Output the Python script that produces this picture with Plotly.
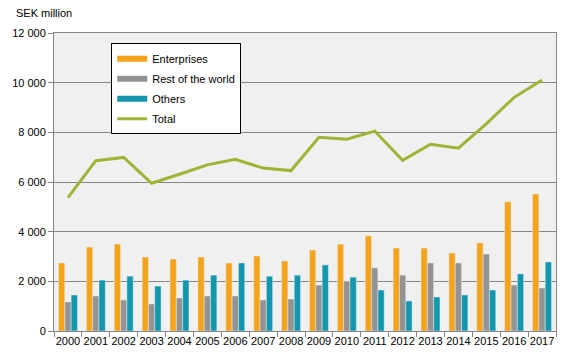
import plotly.graph_objects as go

years = [str(y) for y in range(2000, 2018)]
enterprises = [2740, 3380, 3500, 2980, 2900, 2980, 2740, 3020, 2820, 3260, 3500, 3830, 3340, 3340, 3140, 3550, 5200, 5520]
rest_of_world = [1170, 1410, 1250, 1090, 1330, 1410, 1410, 1250, 1290, 1850, 2010, 2540, 2250, 2740, 2740, 3100, 1850, 1730]
others = [1450, 2050, 2210, 1810, 2050, 2250, 2740, 2210, 2250, 2660, 2170, 1650, 1210, 1370, 1450, 1650, 2300, 2780]
total = [5370, 6860, 6990, 5950, 6310, 6690, 6910, 6560, 6460, 7800, 7720, 8050, 6870, 7520, 7360, 8340, 9410, 10110]

C_ENT = "#F5A31B"
C_ROW = "#939393"
C_OTH = "#1497AC"
C_TOT = "#9CB535"
GRID = "#868686"
FONT = dict(family="Liberation Sans, Arial, sans-serif", size=11, color="#000000")

fig = go.Figure()
fig.add_trace(go.Bar(x=years, y=enterprises, name="Enterprises", marker_color=C_ENT, showlegend=False))
fig.add_trace(go.Bar(x=years, y=rest_of_world, name="Rest of the world", marker_color=C_ROW, showlegend=False))
fig.add_trace(go.Bar(x=years, y=others, name="Others", marker_color=C_OTH, showlegend=False))
fig.add_trace(go.Scatter(x=years, y=total, name="Total", mode="lines",
                         line=dict(color=C_TOT, width=3), showlegend=False))

# legend entries (wide flat keys like the original)
for i, (nm, col, w) in enumerate([("Enterprises", C_ENT, 6), ("Rest of the world", C_ROW, 6),
                                  ("Others", C_OTH, 6), ("Total", C_TOT, 3)]):
    fig.add_trace(go.Scatter(x=[None], y=[None], mode="lines", name=nm, legendgroup=f"g{i}",
                             line=dict(color=col, width=w), showlegend=True))

fig.update_layout(
    width=567, height=353,
    margin=dict(l=54, r=11, t=33, b=22),
    paper_bgcolor="#FFFFFF",
    plot_bgcolor="#F0F0F0",
    barmode="group",
    bargap=0.32,
    bargroupgap=0,
    font=FONT,
    separators=". ",
    legend=dict(x=0.114, y=0.966, xanchor="left", yanchor="top",
                bgcolor="#FFFFFF", bordercolor="#000000", borderwidth=1,
                font=FONT, tracegroupgap=1, traceorder="grouped"),
    annotations=[dict(text="SEK million", xref="paper", yref="paper",
                      x=-0.08, y=1.067, xanchor="left", yanchor="middle",
                      showarrow=False, font=FONT)],
)
fig.update_xaxes(type="category", showline=True, mirror=True, linecolor=GRID, linewidth=1,
                 ticks="outside", tickson="boundaries", ticklen=5, tickcolor=GRID,
                 showgrid=False, tickfont=FONT, tickangle=0, automargin=False)
fig.update_yaxes(range=[0, 12000], dtick=2000, tickformat=",", showline=True, mirror=True,
                 linecolor=GRID, linewidth=1, ticks="outside", ticklen=5, tickcolor=GRID,
                 showgrid=True, gridcolor=GRID, gridwidth=1, zeroline=False, tickfont=FONT,
                 automargin=False)

fig.write_html("out.html")
